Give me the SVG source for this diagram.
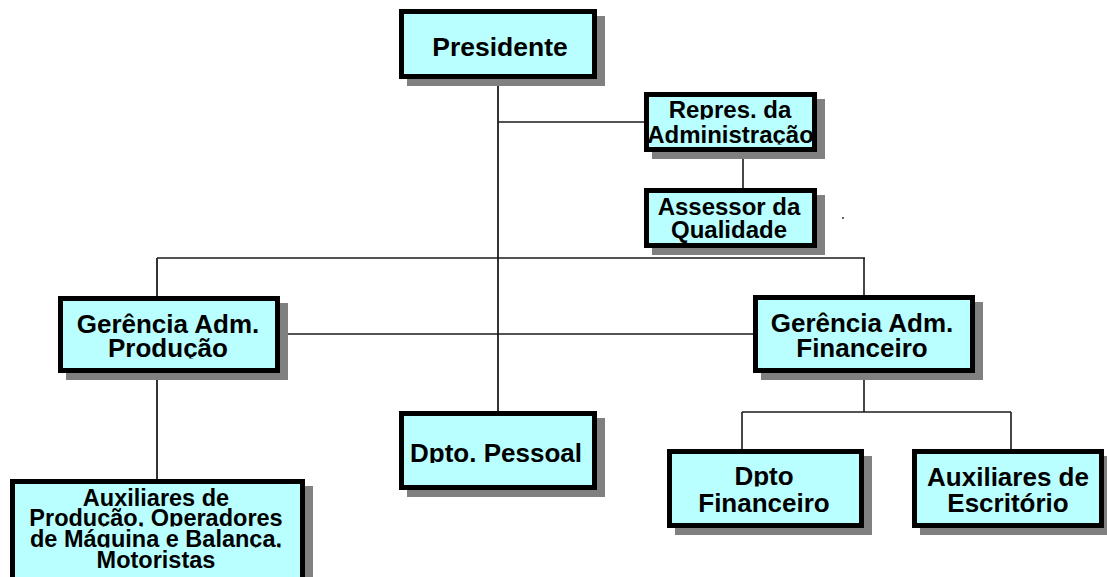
<svg xmlns="http://www.w3.org/2000/svg" width="1107" height="577" viewBox="0 0 1107 577">
<style>
.bg{fill:#ffffff}
.sh{fill:#808080}
.box{fill:#b9ffff;stroke:#000;stroke-width:5}
.t{font-family:"Liberation Sans",Arial,sans-serif;font-weight:bold;fill:#000;text-anchor:middle}
.f26{font-size:26px}
.f24{font-size:24px}
.f23{font-size:23.5px}
.ln{stroke:#1a1a1a;stroke-width:1.6;fill:none}
.lv{stroke:#333;stroke-width:2;fill:none}
</style>
<defs>
<clipPath id="cRep1" clipPathUnits="userSpaceOnUse"><rect x="0" y="90" width="1107" height="29.5"/></clipPath>
<clipPath id="cRep2" clipPathUnits="userSpaceOnUse"><rect x="0" y="115" width="1107" height="29.5"/></clipPath>
<clipPath id="cGp2" clipPathUnits="userSpaceOnUse"><rect x="0" y="325" width="1107" height="33.5"/></clipPath>
<clipPath id="cDp" clipPathUnits="userSpaceOnUse"><rect x="0" y="430" width="1107" height="33"/></clipPath>
<clipPath id="cDf1" clipPathUnits="userSpaceOnUse"><rect x="0" y="455" width="1107" height="31.5"/></clipPath>
<clipPath id="cAp2" clipPathUnits="userSpaceOnUse"><rect x="0" y="500" width="1107" height="26.5"/></clipPath>
<clipPath id="cAp3" clipPathUnits="userSpaceOnUse"><rect x="0" y="521" width="1107" height="26.5"/></clipPath>
</defs>
<rect class="bg" x="0" y="0" width="1107" height="577"/>

<g id="connectors">
<line class="lv" x1="498" y1="79" x2="498" y2="412"/>
<line class="ln" x1="498" y1="122" x2="645" y2="122"/>
<line class="ln" x1="743" y1="152" x2="743" y2="189"/>
<line class="ln" x1="157" y1="258" x2="865" y2="258"/>
<line class="lv" x1="157" y1="258" x2="157" y2="297"/>
<line class="ln" x1="864" y1="258" x2="864" y2="296"/>
<line class="ln" x1="280" y1="334" x2="754" y2="334"/>
<line class="lv" x1="157" y1="373" x2="157" y2="480"/>
<line class="ln" x1="864" y1="373" x2="864" y2="412"/>
<line class="ln" x1="742" y1="412" x2="1011" y2="412"/>
<line class="ln" x1="742" y1="412" x2="742" y2="450"/>
<line class="ln" x1="1011" y1="412" x2="1011" y2="450"/>
</g>

<g id="presidente">
<rect class="sh" x="407" y="16" width="198" height="70"/>
<rect class="box" x="401.5" y="11.5" width="193" height="65"/>
<text class="t" x="500" y="56" font-size="26.5">Presidente</text>
</g>

<g id="repres">
<rect class="sh" x="652" y="99" width="173" height="60"/>
<rect class="box" x="646.5" y="94.5" width="168" height="55"/>
<text class="t f24" x="730" y="118" clip-path="url(#cRep1)">Repres. da</text>
<text class="t f24" x="730.5" y="143" clip-path="url(#cRep2)">Administração</text>
</g>

<g id="assessor">
<rect class="sh" x="652" y="195" width="173" height="60"/>
<rect class="box" x="646.5" y="190.5" width="168" height="55"/>
<text class="t f24" x="729" y="215">Assessor da</text>
<text class="t f24" x="729" y="238">Qualidade</text>
</g>

<rect id="dot" x="842" y="217" width="2" height="2" fill="#666"/>

<g id="gerencia-producao">
<rect class="sh" x="66" y="303" width="222" height="77"/>
<rect class="box" x="60.5" y="298.5" width="217" height="72"/>
<text class="t f26" x="168" y="333">Gerência Adm.</text>
<text class="t f26" x="168" y="357" clip-path="url(#cGp2)">Produção</text>
</g>

<g id="gerencia-financeiro">
<rect class="sh" x="761" y="302" width="222" height="78"/>
<rect class="box" x="755.5" y="297.5" width="217" height="73"/>
<text class="t f26" x="862" y="332">Gerência Adm.</text>
<text class="t f26" x="862" y="357">Financeiro</text>
</g>

<g id="dpto-pessoal">
<rect class="sh" x="407" y="418" width="198" height="79"/>
<rect class="box" x="401.5" y="413.5" width="193" height="74"/>
<text class="t f26" x="496" y="462" clip-path="url(#cDp)">Dpto. Pessoal</text>
</g>

<g id="dpto-financeiro">
<rect class="sh" x="675" y="456" width="197" height="79"/>
<rect class="box" x="669.5" y="451.5" width="192" height="74"/>
<text class="t f26" x="764" y="485" clip-path="url(#cDf1)">Dpto</text>
<text class="t f26" x="764" y="512">Financeiro</text>
</g>

<g id="auxiliares-escritorio">
<rect class="sh" x="920" y="456" width="192" height="79"/>
<rect class="box" x="914.5" y="451.5" width="187" height="74"/>
<text class="t f26" x="1008" y="486">Auxiliares de</text>
<text class="t f26" x="1008" y="512">Escritório</text>
</g>

<g id="auxiliares-producao">
<rect class="sh" x="18" y="486" width="295" height="115"/>
<rect class="box" x="12.5" y="481.5" width="290" height="110"/>
<text class="t f23" x="156" y="506">Auxiliares de</text>
<text class="t f23" x="156" y="526" clip-path="url(#cAp2)">Produção, Operadores</text>
<text class="t f23" x="156" y="547" clip-path="url(#cAp3)">de Máquina e Balança,</text>
<text class="t f23" x="156" y="568">Motoristas</text>
</g>
</svg>
